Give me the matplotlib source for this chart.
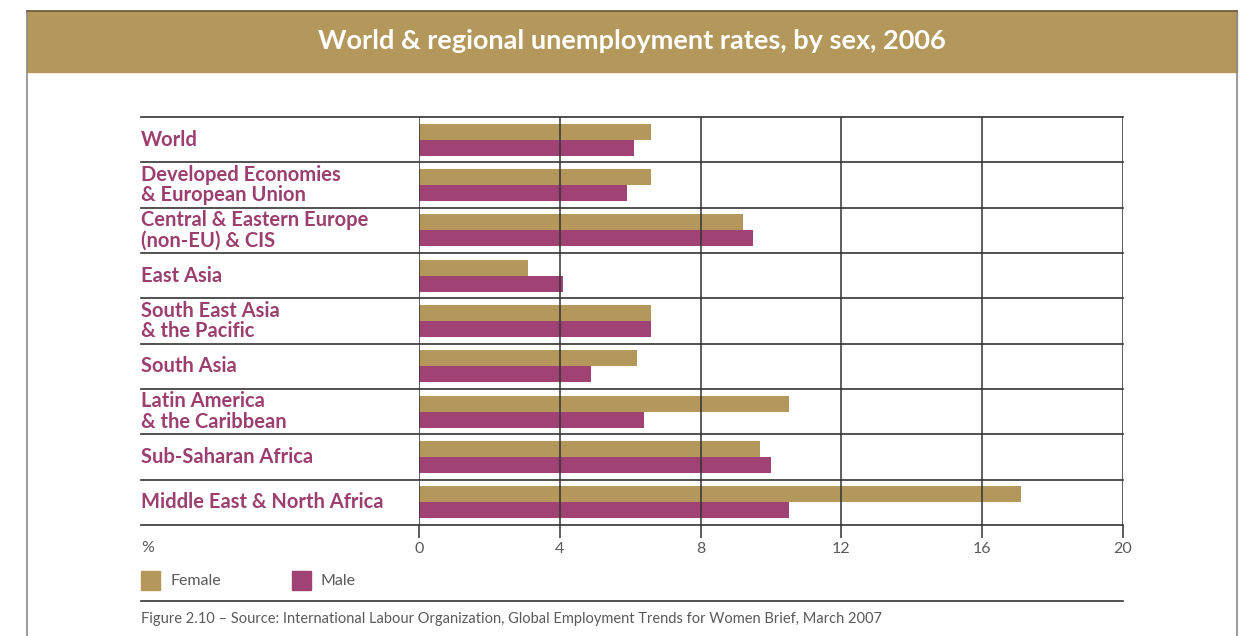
import matplotlib
import matplotlib.pyplot as plt
import numpy as np
from matplotlib.lines import Line2D
from matplotlib.patches import Rectangle

matplotlib.use("Agg")

regions = [
    "World",
    "Developed Economies\n& European Union",
    "Central & Eastern Europe\n(non-EU) & CIS",
    "East Asia",
    "South East Asia\n& the Pacific",
    "South Asia",
    "Latin America\n& the Caribbean",
    "Sub-Saharan Africa",
    "Middle East & North Africa",
]
female = [6.6, 6.6, 9.2, 3.1, 6.6, 6.2, 10.5, 9.7, 17.1]
male = [6.1, 5.9, 9.5, 4.1, 6.6, 4.9, 6.4, 10.0, 10.5]
x_ticks = [0, 4, 8, 12, 16, 20]

GOLD = "#B3975B"
PURPLE = "#A04274"
LABEL = "#9C3F6E"
GRID = "#333333"
TXT = "#5a5a5a"
W, H = 1254, 636

plt.rcParams["font.family"] = ["Lato", "DejaVu Sans"]

fig = plt.figure(figsize=(W / 100, H / 100), dpi=100)

# outer frame and banner
fig.add_artist(Line2D([27 / W, 27 / W], [0, 1 - 11 / H], color="#8a8a8a", lw=1.2))
fig.add_artist(Line2D([1237 / W, 1237 / W], [0, 1 - 11 / H], color="#8a8a8a", lw=1.2))
fig.add_artist(Rectangle((27 / W, 1 - 72 / H), (1237 - 27) / W, 61 / H,
                         transform=fig.transFigure, color=GOLD, zorder=0))
fig.add_artist(Line2D([27 / W, 1237 / W], [1 - 11 / H, 1 - 11 / H], color="#6b5a3a", lw=1.2))
fig.text(632 / W, 1 - 41 / H, "World & regional unemployment rates, by sex, 2006",
         color="white", fontsize=19.5, fontweight="bold", ha="center", va="center")

ax_l, ax_r, ax_t, ax_b = 419, 1123, 117, 525
ax = fig.add_axes([ax_l / W, 1 - ax_b / H, (ax_r - ax_l) / W, (ax_b - ax_t) / H])

n = len(regions)
y = np.arange(n)
bh = 0.355
ax.barh(y - bh / 2, female, height=bh, color=GOLD, zorder=1)
ax.barh(y + bh / 2, male, height=bh, color=PURPLE, zorder=1)

ax.set_xlim(0, 20)
ax.set_ylim(n - 0.5, -0.5)
for s in ax.spines.values():
    s.set_visible(False)

# vertical grid lines, extending down as ticks
for xv in x_ticks:
    ax.axvline(xv, color=GRID, lw=1.1, zorder=2)
ax.set_xticks(x_ticks)
ax.tick_params(axis="x", length=9, width=1.1, color=GRID, pad=3,
               labelsize=11.5, labelcolor=TXT)
ax.set_yticks([])

# row separators spanning label column
lab_x = (141 - ax_l) / (ax_r - ax_l)
for yy in np.arange(-0.5, n, 1.0):
    ax.plot([lab_x, 1], [yy, yy], transform=ax.get_yaxis_transform(),
            color=GRID, lw=1.2, clip_on=False, zorder=2)

for yi, name in zip(y, regions):
    ax.text(lab_x, yi, name, transform=ax.get_yaxis_transform(),
            ha="left", va="center", fontsize=14.5, fontweight="bold",
            color=LABEL, linespacing=1.05)

ax.text(lab_x, -0.040, "%", transform=ax.transAxes, ha="left", va="top",
        fontsize=11.5, color=TXT)

# legend
for x0, col, txt in [(141, GOLD, "Female"), (292, PURPLE, "Male")]:
    fig.add_artist(Rectangle((x0 / W, 1 - 590 / H), 19 / W, 19 / H,
                             transform=fig.transFigure, color=col))
    fig.text((x0 + 29) / W, 1 - 581 / H, txt, fontsize=11.5, color=TXT,
             ha="left", va="center")

fig.add_artist(Line2D([141 / W, 1123 / W], [1 - 601 / H, 1 - 601 / H], color=GRID, lw=1.2))
fig.text(141 / W, 1 - 619 / H,
         "Figure 2.10 \u2013 Source: International Labour Organization, "
         "Global Employment Trends for Women Brief, March 2007",
         fontsize=10.5, color=TXT, ha="left", va="center")

fig.savefig("out.png", dpi=100)
plt.close(fig)
